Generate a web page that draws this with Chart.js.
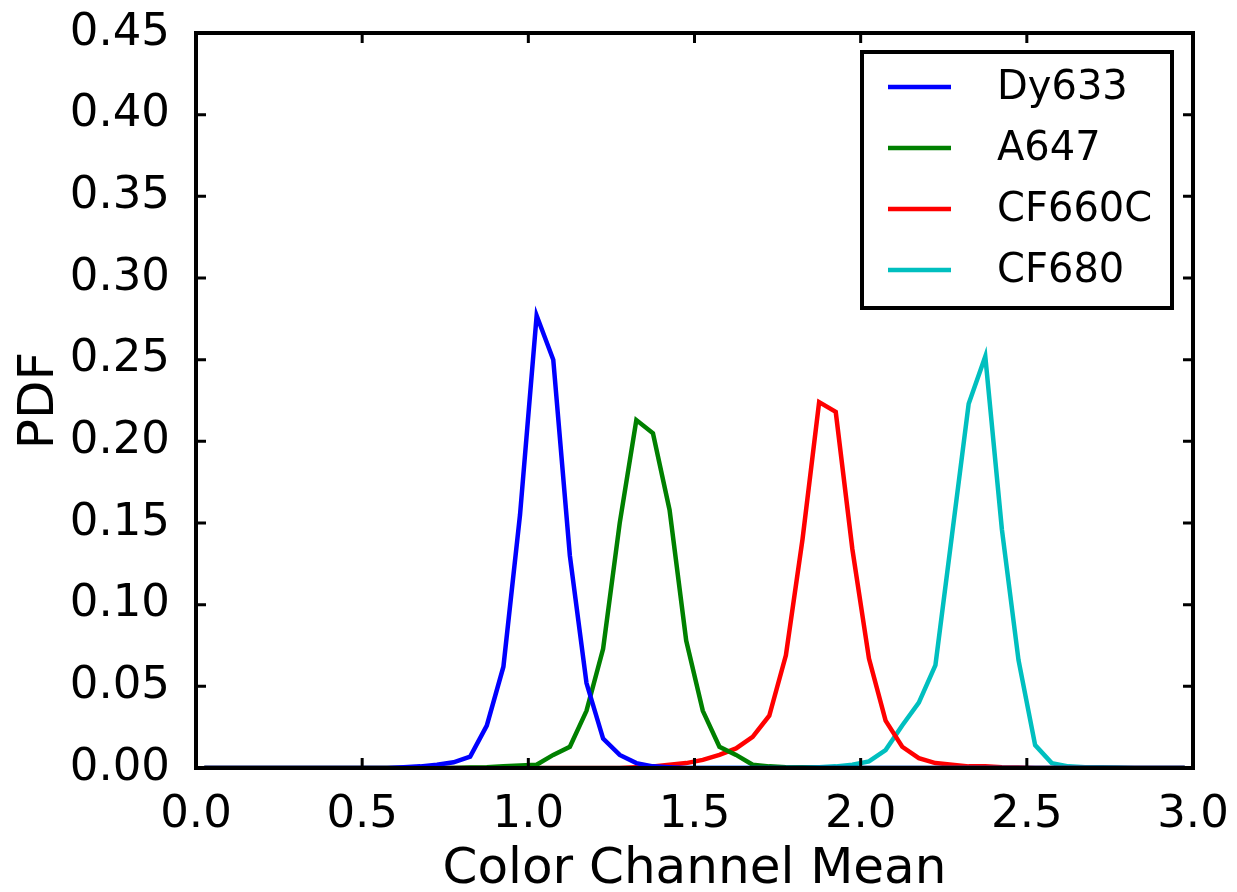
<!DOCTYPE html>
<html>
<head>
<meta charset="utf-8">
<script src="https://cdn.jsdelivr.net/npm/chart.js@4/dist/chart.umd.min.js"></script>
<style>
  html, body { margin: 0; padding: 0; background: #fff; }
</style>
</head>
<body>
<canvas id="pdfChart" width="1237" height="892"></canvas>
<script>
// bin centres on the x axis (Color Channel Mean)
const binCenters = [
  0.025, 0.075, 0.125, 0.175, 0.225, 0.275, 0.325, 0.375, 0.425, 0.475,
  0.525, 0.575, 0.625, 0.675, 0.725, 0.775, 0.825, 0.875, 0.925, 0.975,
  1.025, 1.075, 1.125, 1.175, 1.225, 1.275, 1.325, 1.375, 1.425, 1.475,
  1.525, 1.575, 1.625, 1.675, 1.725, 1.775, 1.825, 1.875, 1.925, 1.975,
  2.025, 2.075, 2.125, 2.175, 2.225, 2.275, 2.325, 2.375, 2.425, 2.475,
  2.525, 2.575, 2.625, 2.675, 2.725, 2.775, 2.825, 2.875, 2.925, 2.975
];

const dy633 = [
  0, 0, 0, 0, 0, 0, 0, 0, 0, 0,
  0, 0, 0.0005, 0.001, 0.002, 0.0035, 0.007, 0.026, 0.062, 0.155,
  0.277, 0.250, 0.130, 0.052, 0.018, 0.008, 0.003, 0.001, 0.0005, 0,
  0, 0, 0, 0, 0, 0, 0, 0, 0, 0,
  0, 0, 0, 0, 0, 0, 0, 0, 0, 0,
  0, 0, 0, 0, 0, 0, 0, 0, 0, 0
];

const a647 = [
  0, 0, 0, 0, 0, 0, 0, 0, 0, 0,
  0, 0, 0, 0, 0, 0, 0.0003, 0.0005, 0.001, 0.0015,
  0.002, 0.008, 0.013, 0.035, 0.073, 0.150, 0.213, 0.205, 0.158, 0.078,
  0.035, 0.013, 0.008, 0.002, 0.001, 0.0005, 0.0003, 0, 0, 0,
  0, 0, 0, 0, 0, 0, 0, 0, 0, 0,
  0, 0, 0, 0, 0, 0, 0, 0, 0, 0
];

const cf660c = [
  0, 0, 0, 0, 0, 0, 0, 0, 0, 0,
  0, 0, 0, 0, 0, 0, 0, 0, 0, 0,
  0, 0, 0, 0, 0, 0, 0.0005, 0.001, 0.002, 0.003,
  0.005, 0.008, 0.012, 0.019, 0.032, 0.069, 0.140, 0.224, 0.218, 0.134,
  0.067, 0.029, 0.013, 0.006, 0.003, 0.002, 0.001, 0.001, 0.0005, 0.0003,
  0, 0, 0, 0, 0, 0, 0, 0, 0, 0
];

const cf680 = [
  0, 0, 0, 0, 0, 0, 0, 0, 0, 0,
  0, 0, 0, 0, 0, 0, 0, 0, 0, 0,
  0, 0, 0, 0, 0, 0, 0, 0, 0, 0,
  0, 0, 0, 0, 0, 0.0003, 0.0005, 0.0005, 0.001, 0.002,
  0.004, 0.011, 0.026, 0.040, 0.063, 0.143, 0.223, 0.252, 0.146, 0.066,
  0.014, 0.003, 0.001, 0.0005, 0.0005, 0.0003, 0, 0, 0, 0
];

const seriesNames = ["Dy633", "A647", "CF660C", "CF680"];
const seriesColors = ["#0000ff", "#008000", "#ff0000", "#00bfbf"];
const seriesValues = [dy633, a647, cf660c, cf680];

const xTicks = [0, 0.5, 1.0, 1.5, 2.0, 2.5, 3.0];
const yTicks = [0, 0.05, 0.1, 0.15, 0.2, 0.25, 0.3, 0.35, 0.4, 0.45];

const FONT = "'DejaVu Sans', sans-serif";

function toPoints(values) {
  return values.map((v, i) => ({ x: binCenters[i], y: v }));
}

// frame, inward ticks on all four sides, and the boxed legend
const framePlugin = {
  id: "frame",
  afterDatasetsDraw(chart) {
    const ctx = chart.ctx;
    const a = chart.chartArea;
    const xs = chart.scales.x;
    const ys = chart.scales.y;
    const tl = 10;
    ctx.save();
    ctx.strokeStyle = "#000";
    ctx.lineWidth = 3;
    ctx.beginPath();
    xTicks.forEach((t) => {
      const px = xs.getPixelForValue(t);
      ctx.moveTo(px, a.bottom);
      ctx.lineTo(px, a.bottom - tl);
      ctx.moveTo(px, a.top);
      ctx.lineTo(px, a.top + tl);
    });
    yTicks.forEach((t) => {
      const py = ys.getPixelForValue(t);
      ctx.moveTo(a.left, py);
      ctx.lineTo(a.left + tl, py);
      ctx.moveTo(a.right, py);
      ctx.lineTo(a.right - tl, py);
    });
    ctx.stroke();

    ctx.lineWidth = 4;
    ctx.strokeRect(a.left, a.top, a.right - a.left, a.bottom - a.top);

    // legend
    const bx = a.right - 331, by = a.top + 19, bw = 310, bh = 256;
    ctx.fillStyle = "#fff";
    ctx.fillRect(bx, by, bw, bh);
    ctx.lineWidth = 4;
    ctx.strokeStyle = "#000";
    ctx.strokeRect(bx, by, bw, bh);
    ctx.font = "40px " + FONT;
    ctx.textBaseline = "middle";
    ctx.textAlign = "left";
    chart.data.datasets.forEach((ds, i) => {
      const ry = by + 35 + i * 61;
      ctx.strokeStyle = ds.borderColor;
      ctx.lineWidth = 4.5;
      ctx.beginPath();
      ctx.moveTo(bx + 26, ry);
      ctx.lineTo(bx + 89, ry);
      ctx.stroke();
      ctx.fillStyle = "#000";
      ctx.fillText(ds.label, bx + 135, ry + 2);
    });
    ctx.restore();
  }
};

const ctx = document.getElementById("pdfChart").getContext("2d");
const pdfChart = new Chart(ctx, {
  type: "line",
  data: {
    datasets: seriesNames.map((name, i) => ({
      label: name,
      data: toPoints(seriesValues[i]),
      borderColor: seriesColors[i],
      backgroundColor: seriesColors[i],
      borderWidth: 4.5,
      pointRadius: 0,
      tension: 0,
      fill: false,
    })),
  },
  options: {
    responsive: false,
    animation: false,
    devicePixelRatio: 1,
    layout: { padding: { top: 33, right: 44, left: 0, bottom: 0 } },
    plugins: {
      legend: { display: false },
      tooltip: { enabled: false },
    },
    scales: {
      x: {
        type: "linear",
        min: 0,
        max: 3,
        afterFit: (scale) => {
          scale.height = 124;
          scale.paddingLeft = 0;
          scale.paddingRight = 0;
        },
        afterBuildTicks: (scale) => { scale.ticks = xTicks.map((v) => ({ value: v })); },
        grid: { display: false, drawTicks: false },
        border: { display: false },
        ticks: {
          color: "#000",
          font: { family: FONT, size: 45 },
          padding: 20,
          maxRotation: 0,
          callback: (v) => Number(v).toFixed(1),
        },
        title: {
          display: true,
          text: "Color Channel Mean",
          color: "#000",
          font: { family: FONT, size: 50, lineHeight: 0.8 },
          padding: { top: 0, bottom: 2 },
        },
      },
      y: {
        type: "linear",
        min: 0,
        max: 0.45,
        afterFit: (scale) => {
          scale.width = 196;
          scale.paddingTop = 0;
          scale.paddingBottom = 0;
        },
        afterBuildTicks: (scale) => { scale.ticks = yTicks.map((v) => ({ value: v })); },
        grid: { display: false, drawTicks: false },
        border: { display: false },
        ticks: {
          color: "#000",
          font: { family: FONT, size: 45 },
          padding: 26,
          callback: (v) => Number(v).toFixed(2),
        },
        title: {
          display: true,
          text: "PDF",
          color: "#000",
          font: { family: FONT, size: 50, lineHeight: 1 },
          padding: { top: 15, bottom: 0 },
        },
      },
    },
  },
  plugins: [framePlugin],
});
</script>
</body>
</html>
